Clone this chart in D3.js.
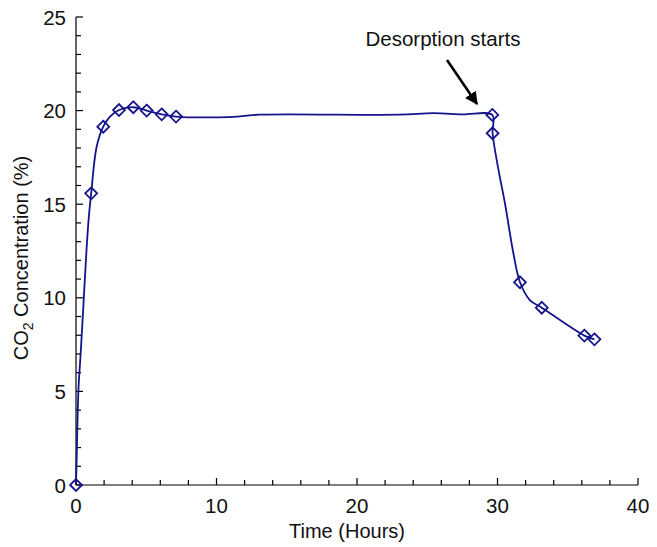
<!DOCTYPE html>
<html>
<head>
<meta charset="utf-8">
<script src="https://cdn.jsdelivr.net/npm/d3@7"></script>
<style>
  body { margin: 0; background: #fff; }
  text { font-family: "Liberation Sans", Arial, sans-serif; fill: #111; }
</style>
</head>
<body>
<script>
// points mesurés (losanges)
const markTime = [0, 1.08, 1.94, 3.06, 4.08, 5.03, 6.1, 7.12, 29.63, 29.65, 31.6, 33.15, 36.18, 36.9];
const markConc = [0, 15.58, 19.14, 20.03, 20.18, 20.0, 19.8, 19.68, 19.77, 18.79, 10.83, 9.47, 7.98, 7.78];

// tracé de la courbe (plus de points que les losanges)
const lineTime = [0, 0.05, 0.18, 0.33, 0.52, 0.76, 0.9, 1.08, 1.47, 1.94, 2.42, 3.06, 4.08, 5.03, 6.1, 7.12,
  11.5, 13, 23, 25.4, 27.5, 29.63, 29.65, 30.07, 30.53, 31.13, 31.6, 32.3, 33.15, 36.18, 36.9];
const lineConc = [0, 1.5, 5.2, 7.0, 9.5, 12.7, 14.2, 15.58, 18.07, 19.14, 19.68, 20.03, 20.18, 20.0, 19.8, 19.68,
  19.68, 19.78, 19.78, 19.86, 19.8, 19.77, 18.79, 16.83, 15.05, 12.38, 10.83, 9.88, 9.47, 7.98, 7.78];

const xTicks = [0, 10, 20, 30, 40];
const yTicks = [0, 5, 10, 15, 20, 25];

const W = 657, H = 547;
const svg = d3.select('body').append('svg')
  .attr('width', W).attr('height', H);

const x = d3.scaleLinear().domain([0, 40]).range([76, 638]);
const y = d3.scaleLinear().domain([0, 25]).range([485, 17]);

const col = '#14148c';

// axes
const axes = svg.append('g').attr('stroke', '#000').attr('stroke-width', 1.2);
axes.append('line').attr('x1', x(0)).attr('x2', x(40)).attr('y1', y(0)).attr('y2', y(0));
axes.append('line').attr('x1', x(0)).attr('x2', x(0)).attr('y1', y(0)).attr('y2', y(25));

// graduations x : mineures tous les 2, majeures tous les 10
d3.range(0, 41, 2).forEach(t => {
  const major = t % 10 === 0;
  axes.append('line').attr('x1', x(t)).attr('x2', x(t))
    .attr('y1', y(0)).attr('y2', y(0) - (major ? 7 : 5));
});
// graduations y : mineures tous les 1
d3.range(0, 26, 1).forEach(v => {
  const major = v % 5 === 0;
  axes.append('line').attr('x1', x(0)).attr('x2', x(0) + (major ? 7 : 5))
    .attr('y1', y(v)).attr('y2', y(v));
});

svg.selectAll('.xl').data(xTicks).enter().append('text')
  .attr('x', d => x(d)).attr('y', y(0) + 28)
  .attr('text-anchor', 'middle').attr('font-size', 20.5)
  .text(d => d);
svg.selectAll('.yl').data(yTicks).enter().append('text')
  .attr('x', x(0) - 10).attr('y', d => y(d) + 7.5)
  .attr('text-anchor', 'end').attr('font-size', 20.5)
  .text(d => d);

// titres d'axes
svg.append('text').attr('x', 347).attr('y', 538)
  .attr('text-anchor', 'middle').attr('font-size', 20)
  .text('Time (Hours)');

const yt = svg.append('text')
  .attr('transform', 'translate(28,258) rotate(-90)')
  .attr('text-anchor', 'middle').attr('font-size', 20);
yt.append('tspan').text('CO');
yt.append('tspan').attr('font-size', 14).attr('dy', 5).text('2');
yt.append('tspan').attr('dy', -5).text(' Concentration (%)');

// courbe
const lineData = lineTime.map((t, i) => [t, lineConc[i]]);
const gen = d3.line().x(d => x(d[0])).y(d => y(d[1])).curve(d3.curveCatmullRom.alpha(0.5));
svg.append('path').attr('d', gen(lineData))
  .attr('fill', 'none').attr('stroke', col).attr('stroke-width', 1.8);

// losanges
const sym = d3.symbol().type(d3.symbolDiamond2).size(90);
svg.selectAll('.m').data(markTime.map((t, i) => [t, markConc[i]])).enter()
  .append('path')
  .attr('d', sym)
  .attr('transform', d => `translate(${x(d[0])},${y(d[1])})`)
  .attr('fill', 'none').attr('stroke', col).attr('stroke-width', 1.8);

// annotation
svg.append('defs').append('marker')
  .attr('id', 'ah').attr('viewBox', '0 0 10 10')
  .attr('refX', 9).attr('refY', 5)
  .attr('markerWidth', 5).attr('markerHeight', 5)
  .attr('orient', 'auto')
  .append('path').attr('d', 'M0,0 L10,5 L0,10 Z').attr('fill', '#000');
svg.append('line')
  .attr('x1', 447).attr('y1', 60).attr('x2', 477).attr('y2', 104)
  .attr('stroke', '#000').attr('stroke-width', 2.6)
  .attr('marker-end', 'url(#ah)');
svg.append('text').attr('x', 443).attr('y', 46)
  .attr('text-anchor', 'middle').attr('font-size', 20.5)
  .text('Desorption starts');
</script>
</body>
</html>
